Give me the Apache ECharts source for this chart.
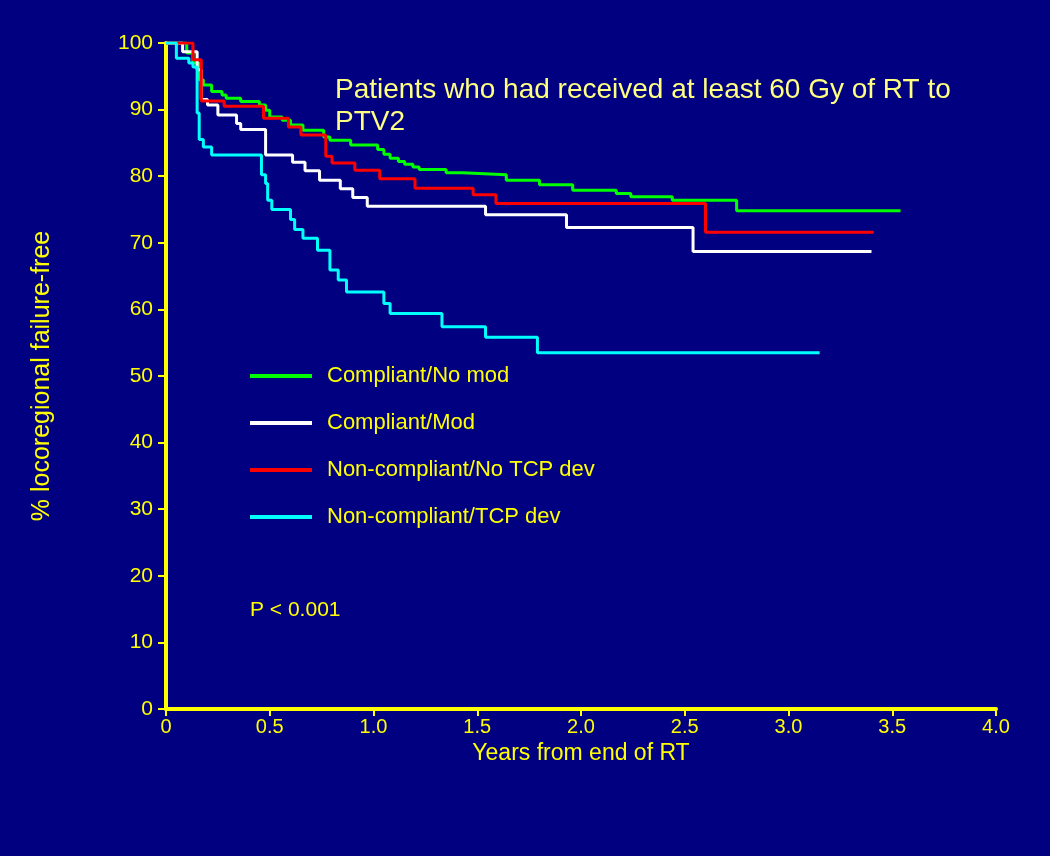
<!DOCTYPE html>
<html>
<head>
<meta charset="utf-8">
<style>
html,body{margin:0;padding:0;background:#000080;}
#chart{width:1050px;height:856px;}
</style>
<script src="https://cdn.jsdelivr.net/npm/echarts@6/dist/echarts.min.js"></script>
</head>
<body>
<div id="chart"></div>
<script>
// ---- data ----
var seriesNames = ['Compliant/No mod', 'Compliant/Mod', 'Non-compliant/No TCP dev', 'Non-compliant/TCP dev'];
var xTickLabels = ['0', '0.5', '1.0', '1.5', '2.0', '2.5', '3.0', '3.5', '4.0'];
var yTickLabels = ['0', '10', '20', '30', '40', '50', '60', '70', '80', '90', '100'];

var compliantNoMod = [
  [0,100],[0.10,98.5],[0.13,97],[0.16,94.5],[0.18,93.7],[0.22,92.7],[0.27,92.2],[0.29,91.7],
  [0.36,91.2],[0.45,90.7],[0.48,89.9],[0.50,88.9],[0.56,88.4],[0.60,87.7],[0.66,86.9],
  [0.76,85.9],[0.79,85.4],[0.89,84.7],[1.02,84.0],[1.05,83.3],[1.08,82.7],[1.12,82.2],
  [1.15,81.8],[1.19,81.4],[1.22,81.0],[1.35,80.5],[1.43,80.2],[1.64,79.4],[1.80,78.7],
  [1.96,77.9],[2.17,77.4],[2.24,76.9],[2.44,76.4],[2.75,74.8],[3.54,74.8]
];
var compliantMod = [
  [0,100],[0.08,98.7],[0.15,96.0],[0.17,91.5],[0.20,90.7],[0.25,89.2],[0.34,87.9],[0.36,87.0],
  [0.48,83.2],[0.61,82.1],[0.67,80.8],[0.74,79.4],[0.84,78.1],[0.90,76.8],[0.97,75.5],
  [1.54,74.2],[1.93,72.3],[2.54,68.7],[3.40,68.7]
];
var nonCompliantNoTcp = [
  [0,100],[0.13,97.5],[0.17,91.3],[0.28,90.5],[0.47,88.7],[0.59,87.4],[0.65,86.2],
  [0.77,83.0],[0.80,82.0],[0.91,80.9],[1.03,79.6],[1.20,78.2],[1.48,77.2],[1.59,75.9],
  [2.60,71.6],[3.41,71.6]
];
var nonCompliantTcp = [
  [0,100],[0.05,97.7],[0.11,97.0],[0.13,96.4],[0.15,89.5],[0.16,85.5],[0.18,84.4],[0.22,83.2],
  [0.46,80.2],[0.48,78.9],[0.49,76.4],[0.51,75.0],[0.60,73.5],[0.62,72.0],[0.66,70.7],
  [0.73,68.9],[0.79,65.9],[0.83,64.4],[0.87,62.6],[1.05,60.9],[1.08,59.4],[1.33,57.4],
  [1.54,55.8],[1.79,53.5],[3.15,53.5]
];
var seriesColors = ['#00ff00', '#ffffff', '#ff0000', '#00ffff'];
var seriesData = [compliantNoMod, compliantMod, nonCompliantNoTcp, nonCompliantTcp];

var titleText = 'Patients who had received at least 60 Gy of RT to\nPTV2';
var pText = 'P < 0.001';
var xName = 'Years from end of RT';
var yName = '% locoregional failure-free';

// ---- chart ----
var FONT = "'Liberation Sans', Arial, sans-serif";
var YEL = '#ffff00';
var chart = echarts.init(document.getElementById('chart'));
var series = seriesNames.map(function (n, i) {
  return {
    name: n, type: 'line', step: 'end', data: seriesData[i],
    showSymbol: false, symbol: 'none',
    lineStyle: { color: seriesColors[i], width: 3 },
    itemStyle: { color: seriesColors[i] },
    z: 2
  };
});
chart.setOption({
  backgroundColor: '#000080',
  animation: false,
  title: {
    text: titleText, left: 330, top: 69,
    textStyle: { color: '#ffff80', fontFamily: FONT, fontSize: 28, fontWeight: 'normal', lineHeight: 32 }
  },
  legend: {
    orient: 'vertical', left: 250, top: 364, icon: 'rect', itemWidth: 62, itemHeight: 4,
    itemGap: 23, padding: 0,
    data: seriesNames,
    textStyle: { color: YEL, fontFamily: FONT, fontSize: 22, lineHeight: 24, padding: [0, 0, 0, 10] }
  },
  grid: { left: 166, right: 54, top: 43, bottom: 147, containLabel: false },
  xAxis: {
    type: 'value', min: 0, max: 4, interval: 0.5,
    name: xName, nameLocation: 'middle', nameGap: 26,
    nameTextStyle: { color: YEL, fontFamily: FONT, fontSize: 23 },
    axisLine: { lineStyle: { color: YEL, width: 4 } },
    axisTick: { show: true, length: 7, lineStyle: { color: YEL, width: 2 } },
    axisLabel: {
      color: YEL, fontFamily: FONT, fontSize: 20, margin: 8,
      formatter: function (v) { return xTickLabels[Math.round(v / 0.5)]; }
    },
    splitLine: { show: false }
  },
  yAxis: {
    type: 'value', min: 0, max: 100, interval: 10,
    name: yName, nameLocation: 'middle', nameGap: 111, nameRotate: 90,
    nameTextStyle: { color: YEL, fontFamily: FONT, fontSize: 25 },
    axisLine: { show: true, lineStyle: { color: YEL, width: 4 } },
    axisTick: { show: true, length: 8, lineStyle: { color: YEL, width: 2 } },
    axisLabel: {
      color: YEL, fontFamily: FONT, fontSize: 21, margin: 13,
      formatter: function (v) { return yTickLabels[Math.round(v / 10)]; }
    },
    splitLine: { show: false }
  },
  graphic: [{
    type: 'text', left: 250, top: 600,
    style: { text: pText, fill: YEL, font: "21px 'Liberation Sans', Arial, sans-serif" }
  }],
  series: series
});
</script>
</body>
</html>
